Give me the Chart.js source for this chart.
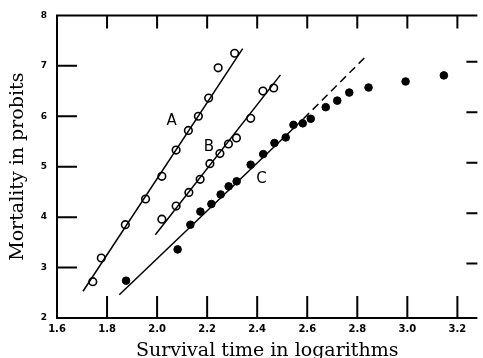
<!DOCTYPE html>
<html>
<head>
<meta charset="utf-8">
<script src="https://cdn.jsdelivr.net/npm/chart.js@4.4.1/dist/chart.umd.min.js"></script>
<style>
  html, body { margin: 0; padding: 0; background: #fff; }
  #wrap { width: 483px; height: 358px; }
</style>
</head>
<body>
<div id="wrap"><canvas id="chart1"></canvas></div>
<script>
// series A (open circles)
const aX = [1.743, 1.777, 1.873, 1.954, 2.019, 2.076, 2.125, 2.165, 2.206, 2.244, 2.310];
const aY = [2.72, 3.19, 3.85, 4.36, 4.81, 5.33, 5.72, 6.00, 6.36, 6.96, 7.25];
// series B (open circles)
const bX = [2.019, 2.076, 2.127, 2.172, 2.211, 2.251, 2.285, 2.317, 2.374, 2.423, 2.466];
const bY = [3.96, 4.22, 4.49, 4.75, 5.06, 5.26, 5.45, 5.57, 5.96, 6.50, 6.56];
// series C (filled dots)
const cX = [1.876, 2.082, 2.133, 2.173, 2.217, 2.254, 2.286, 2.318, 2.374, 2.424, 2.469,
            2.514, 2.545, 2.582, 2.614, 2.674, 2.720, 2.768, 2.845, 2.993, 3.146];
const cY = [2.74, 3.36, 3.85, 4.11, 4.26, 4.45, 4.61, 4.71, 5.04, 5.25, 5.47,
            5.58, 5.83, 5.86, 5.95, 6.18, 6.31, 6.47, 6.57, 6.69, 6.81];

// fitted lines (end points)
const lineAX = [1.704, 2.342];
const lineAY = [2.53, 7.34];
const lineBX = [1.993, 2.493];
const lineBY = [3.65, 6.82];
const lineCX = [1.849, 2.585];
const lineCY = [2.46, 5.95];
const dashCX = [2.585, 2.835];
const dashCY = [5.95, 7.19];

// curve labels
const curveNames = ['A', 'B', 'C'];
const curveNameX = [2.058, 2.207, 2.417];
const curveNameY = [5.90, 5.38, 4.75];

const xTicks = [1.6, 1.8, 2.0, 2.2, 2.4, 2.6, 2.8, 3.0, 3.2];
const yTicks = [2, 3, 4, 5, 6, 7, 8];
const xInnerTicks = [1.8, 2.0, 2.2, 2.4, 2.6, 2.8, 3.0, 3.2];
const yInnerTicks = [3, 4, 5, 6, 7];

function pts(xs, ys) {
    return xs.map((x, i) => ({ x: x, y: ys[i] }));
}

const framePlugin = {
    id: 'frame',
    afterDatasetsDraw(chart) {
        const ctx = chart.ctx;
        const area = chart.chartArea;
        const xs = chart.scales.x;
        const ys = chart.scales.y;
        ctx.save();
        ctx.strokeStyle = '#000';
        ctx.lineWidth = 2;
        ctx.beginPath();
        ctx.moveTo(area.right, area.top);
        ctx.lineTo(area.left, area.top);
        ctx.lineTo(area.left, area.bottom);
        ctx.lineTo(area.right, area.bottom);
        ctx.stroke();

        // inward ticks
        ctx.lineWidth = 2;
        ctx.beginPath();
        xInnerTicks.forEach(v => {
            const px = xs.getPixelForValue(v);
            ctx.moveTo(px, area.top);
            ctx.lineTo(px, area.top + 13);
            ctx.moveTo(px, area.bottom);
            ctx.lineTo(px, area.bottom - 22);
        });
        yInnerTicks.forEach(v => {
            const py = ys.getPixelForValue(v);
            ctx.moveTo(area.left, py);
            ctx.lineTo(area.left + 20, py);
            ctx.moveTo(area.right, py - 4);
            ctx.lineTo(area.right - 11, py - 4);
        });
        ctx.stroke();

        // curve names
        ctx.fillStyle = '#000';
        ctx.font = '15px "DejaVu Sans"';
        ctx.textAlign = 'center';
        ctx.textBaseline = 'middle';
        curveNames.forEach((n, i) => {
            ctx.fillText(n, xs.getPixelForValue(curveNameX[i]), ys.getPixelForValue(curveNameY[i]));
        });
        ctx.restore();
    }
};

const openPoint = {
    pointRadius: 3.8,
    pointBackgroundColor: '#fff',
    pointBorderColor: '#000',
    pointBorderWidth: 1.6,
    showLine: false
};

const solidLine = {
    showLine: true,
    pointRadius: 0,
    borderColor: '#000',
    borderWidth: 1.5,
    fill: false
};

new Chart(document.getElementById('chart1'), {
    type: 'scatter',
    data: {
        datasets: [
            Object.assign({ label: 'A line', data: pts(lineAX, lineAY) }, solidLine),
            Object.assign({ label: 'B line', data: pts(lineBX, lineBY) }, solidLine),
            Object.assign({ label: 'C line', data: pts(lineCX, lineCY) }, solidLine),
            Object.assign({ label: 'C dashed', data: pts(dashCX, dashCY), borderDash: [8, 5] }, solidLine),
            Object.assign({ label: 'A', data: pts(aX, aY) }, openPoint),
            Object.assign({ label: 'B', data: pts(bX, bY) }, openPoint),
            {
                label: 'C',
                data: pts(cX, cY),
                pointRadius: 3.8,
                pointBackgroundColor: '#000',
                pointBorderColor: '#000',
                pointBorderWidth: 1,
                showLine: false
            }
        ]
    },
    options: {
        responsive: true,
        maintainAspectRatio: false,
        animation: false,
        layout: { padding: { top: 15, right: 0, left: 0, bottom: 0 } },
        plugins: {
            legend: { display: false },
            tooltip: { enabled: false }
        },
        scales: {
            x: {
                type: 'linear',
                min: 1.6,
                max: 3.28,
                grid: { display: false, drawTicks: false },
                border: { display: false },
                afterBuildTicks: (scale) => {
                    scale.ticks = xTicks.map(v => ({ value: v }));
                },
                afterFit: (scale) => { scale.height = 40; },
                ticks: {
                    padding: 5,
                    maxRotation: 0,
                    autoSkip: false,
                    color: '#000',
                    font: { family: 'DejaVu Sans', weight: 'bold', size: 10 },
                    callback: (v) => Number(v).toFixed(1)
                },
                title: {
                    display: true,
                    text: 'Survival time in logarithms',
                    color: '#000',
                    font: { family: 'DejaVu Serif', size: 19, lineHeight: 1 },
                    padding: { top: 0, bottom: -2.5 }
                }
            },
            y: {
                type: 'linear',
                min: 2,
                max: 8,
                grid: { display: false, drawTicks: false },
                border: { display: false },
                afterBuildTicks: (scale) => {
                    scale.ticks = yTicks.map(v => ({ value: v }));
                },
                afterFit: (scale) => { scale.width = 57; },
                ticks: {
                    padding: 10,
                    color: '#000',
                    font: { family: 'DejaVu Sans', weight: 'bold', size: 9 },
                    callback: (v) => String(v)
                },
                title: {
                    display: true,
                    text: 'Mortality in probits',
                    color: '#000',
                    font: { family: 'DejaVu Serif', size: 19, lineHeight: 1 },
                    padding: { top: 8.5, bottom: 0 }
                }
            }
        }
    },
    plugins: [framePlugin]
});
</script>
</body>
</html>
